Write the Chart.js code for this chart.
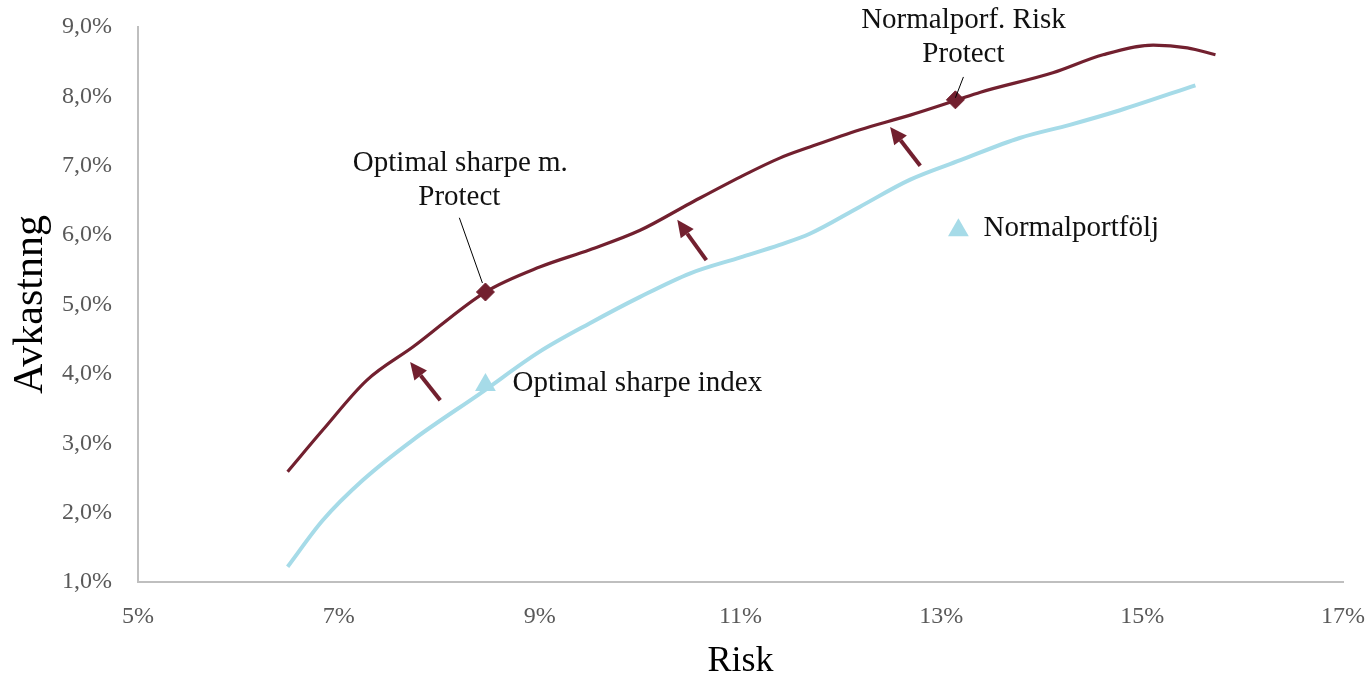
<!DOCTYPE html>
<html>
<head>
<meta charset="utf-8">
<script src="https://cdn.jsdelivr.net/npm/chart.js@4.4.0/dist/chart.umd.min.js"></script>
<style>
  html, body { margin: 0; padding: 0; background: #ffffff; }
  #wrap { width: 1368px; height: 677px; }
</style>
</head>
<body>
<div id="wrap"><canvas id="c" width="1368" height="677"></canvas></div>
<script>
// ---- Data ----
const protectRisk   = [6.49, 6.84, 7.28, 7.74, 8.46, 9.00, 9.50, 10.00, 10.50, 11.00, 11.39, 11.69, 12.19, 12.69, 13.14, 13.39, 14.11, 14.61, 15.11, 15.45, 15.73];
const protectReturn = [2.59, 3.19, 3.91, 4.39, 5.18, 5.54, 5.79, 6.07, 6.46, 6.84, 7.11, 7.27, 7.52, 7.73, 7.94, 8.06, 8.34, 8.60, 8.74, 8.70, 8.60];

const indexRisk     = [6.49, 6.84, 7.24, 7.74, 8.41, 9.00, 9.50, 10.00, 10.50, 11.00, 11.39, 11.69, 12.19, 12.69, 13.19, 13.78, 14.28, 14.78, 15.53];
const indexReturn   = [1.22, 1.89, 2.47, 3.05, 3.72, 4.32, 4.73, 5.11, 5.45, 5.68, 5.86, 6.02, 6.41, 6.80, 7.08, 7.40, 7.59, 7.80, 8.16];

const protectPointRisk   = [8.46, 13.14];
const protectPointReturn = [5.18, 7.95];
const indexPointRisk     = [8.46, 13.17];
const indexPointReturn   = [3.84, 6.07];

const xTicks = [5, 7, 9, 11, 13, 15, 17];
const yTicks = [1, 2, 3, 4, 5, 6, 7, 8, 9];

const xTitle = 'Risk';
const yTitle = 'Avkastnng';

// Annotations (in data units)
const arrows = [
  { from: [8.01, 3.62],  to: [7.71, 4.17] },
  { from: [10.66, 5.64], to: [10.37, 6.22] },
  { from: [12.79, 7.00], to: [12.49, 7.56] }
];
const leaders = [
  { from: [8.20, 6.25],  to: [8.43, 5.31] },
  { from: [13.22, 8.28], to: [13.14, 7.98] }
];
const labels = [
  { text: 'Optimal sharpe m.', at: [8.21, 7.04], align: 'center' },
  { text: 'Protect',           at: [8.20, 6.55], align: 'center' },
  { text: 'Normalporf. Risk',  at: [13.22, 9.10], align: 'center' },
  { text: 'Protect',           at: [13.22, 8.60], align: 'center' },
  { text: 'Optimal sharpe index', at: [8.73, 3.87], align: 'left' },
  { text: 'Normalportfölj',    at: [13.42, 6.10], align: 'left' }
];

const DARK = '#72202f';
const LIGHT = '#a6dbe8';
const FONT = "'Liberation Serif', 'Times New Roman', serif";

const toXY = (xs, ys) => xs.map((x, i) => ({ x: x, y: ys[i] }));

const annotationPlugin = {
  id: 'annotations',
  afterDatasetsDraw(chart) {
    const ctx = chart.ctx;
    const xs = chart.scales.x, ys = chart.scales.y;
    const px = p => [xs.getPixelForValue(p[0]), ys.getPixelForValue(p[1])];
    ctx.save();
    ctx.strokeStyle = '#000000';
    ctx.lineWidth = 1;
    leaders.forEach(l => {
      const a = px(l.from), b = px(l.to);
      ctx.beginPath(); ctx.moveTo(a[0], a[1]); ctx.lineTo(b[0], b[1]); ctx.stroke();
    });
    arrows.forEach(ar => {
      const a = px(ar.from), b = px(ar.to);
      const ang = Math.atan2(b[1] - a[1], b[0] - a[0]);
      const headLen = 17, headW = 8;
      const bx = b[0] - Math.cos(ang) * headLen, by = b[1] - Math.sin(ang) * headLen;
      ctx.strokeStyle = DARK; ctx.fillStyle = DARK; ctx.lineWidth = 4; ctx.lineCap = 'butt';
      ctx.beginPath(); ctx.moveTo(a[0], a[1]); ctx.lineTo(bx, by); ctx.stroke();
      ctx.beginPath();
      ctx.moveTo(b[0], b[1]);
      ctx.lineTo(bx + Math.sin(ang) * headW, by - Math.cos(ang) * headW);
      ctx.lineTo(bx - Math.sin(ang) * headW, by + Math.cos(ang) * headW);
      ctx.closePath(); ctx.fill();
    });
    ctx.fillStyle = '#111111';
    ctx.font = '29px ' + FONT;
    ctx.textBaseline = 'middle';
    labels.forEach(l => {
      const p = px(l.at);
      ctx.textAlign = l.align;
      ctx.fillText(l.text, p[0], p[1]);
    });
    ctx.restore();
  }
};

new Chart(document.getElementById('c'), {
  type: 'scatter',
  data: {
    datasets: [
      { label: 'Protect markers', data: toXY(protectPointRisk, protectPointReturn), order: 0,
        pointStyle: 'rectRot', pointRadius: 9, backgroundColor: DARK, borderColor: DARK, borderWidth: 1, showLine: false },
      { label: 'Index markers', data: toXY(indexPointRisk, indexPointReturn), order: 0,
        pointStyle: 'triangle', pointRadius: 12, backgroundColor: LIGHT, borderColor: LIGHT, borderWidth: 0, showLine: false },
      { label: 'Protect', data: toXY(protectRisk, protectReturn), order: 1,
        showLine: true, borderColor: DARK, borderWidth: 3.2, pointRadius: 0, cubicInterpolationMode: 'monotone', fill: false },
      { label: 'Index', data: toXY(indexRisk, indexReturn), order: 2,
        showLine: true, borderColor: LIGHT, borderWidth: 4, pointRadius: 0, cubicInterpolationMode: 'monotone', fill: false }
    ]
  },
  options: {
    responsive: false,
    animation: false,
    devicePixelRatio: 1,
    layout: { padding: { top: 27, right: 25, left: 0, bottom: 0 } },
    plugins: { legend: { display: false }, tooltip: { enabled: false } },
    scales: {
      x: {
        type: 'linear', min: 5, max: 17,
        afterBuildTicks: s => { s.ticks = xTicks.map(v => ({ value: v })); },
        afterFit: s => { s.height = 95; s.paddingLeft = 0; s.paddingRight = 0; },
        grid: { display: false },
        border: { display: true, color: '#bfbfbf', width: 2 },
        ticks: { padding: 12, color: '#595959', font: { family: FONT, size: 24 },
                 callback: v => v + '%' },
        title: { display: true, text: xTitle, color: '#000000', padding: { top: 0, bottom: -3 },
                 font: { family: FONT, size: 36, lineHeight: 1.0 } }
      },
      y: {
        type: 'linear', min: 1, max: 9,
        afterBuildTicks: s => { s.ticks = yTicks.map(v => ({ value: v })); },
        afterFit: s => { s.width = 138; s.paddingTop = 0; s.paddingBottom = 0; },
        grid: { display: false },
        border: { display: true, color: '#bfbfbf', width: 2 },
        ticks: { padding: 18, color: '#595959', font: { family: FONT, size: 24 },
                 callback: v => v.toFixed(1).replace('.', ',') + '%' },
        title: { display: true, text: yTitle, color: '#000000', padding: { top: 10, bottom: 0 },
                 font: { family: FONT, size: 42, lineHeight: 1.0 } }
      }
    }
  },
  plugins: [annotationPlugin]
});
</script>
</body>
</html>
